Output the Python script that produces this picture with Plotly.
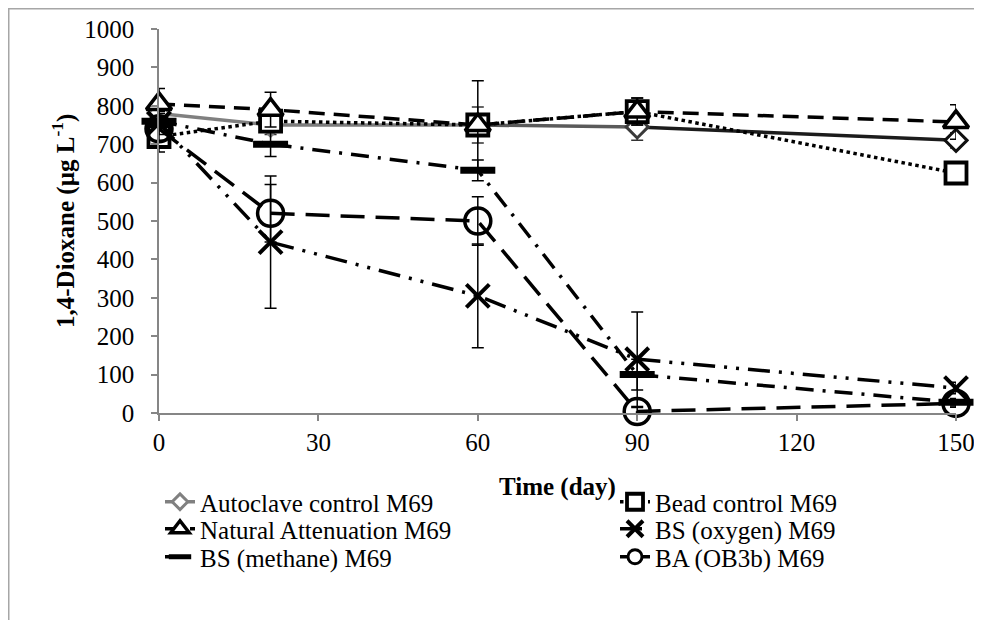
import plotly.graph_objects as go

# ---------------- data ----------------
days = [0, 21, 60, 90, 150]

autoclave = [780, 750, 750, 745, 710]
autoclave_err = [35, 25, 47, 35, 20]

bead = [720, 760, 750, 785, 625]
bead_err = [40, 15, 20, 35, 12]

natural = [805, 790, 750, 785, 758]
natural_err = [40, 45, 115, 35, 45]

oxygen = [755, 445, 305, 140, 65]
oxygen_err = [30, 172, 135, 123, 15]

methane = [760, 700, 632, 100, 28]
methane_err = [20, 32, 27, 40, 10]

ba = [740, 520, 500, 4, 25]
ba_err = [30, 75, 63, 10, 10]

names = ["Autoclave control M69", "Bead control M69", "Natural Attenuation M69",
         "BS (oxygen) M69", "BS (methane) M69", "BA (OB3b) M69"]

x_ticks = [0, 30, 60, 90, 120, 150]
y_ticks = [0, 100, 200, 300, 400, 500, 600, 700, 800, 900, 1000]

x_title = "<b>Time (day)</b>"
y_title = "<b>1,4-Dioxane (µg L<sup>-1</sup>)</b>"

# ---------------- style ----------------
FONT = "Liberation Serif, Times New Roman, serif"
FS = 25
AXIS_GRAY = "#868686"
auto_seg_colors = ["#808080", "#7c7c7c", "#5a5a5a", "#1c1c1c"]
auto_marker_colors = ["#808080", "#808080", "#6a6a6a", "#3a3a3a", "#101010"]

fig = go.Figure()

def err(arr, color="black"):
    return dict(type="data", array=arr, visible=True, color=color, thickness=1.5, width=6)

def legend_only(name, legend, line, marker):
    fig.add_trace(go.Scatter(x=[None], y=[None], name=name, mode="lines+markers",
                             line=line, marker=marker, legend=legend))

# Autoclave: gray line darkening toward the end (drawn segment by segment)
for i in range(len(days) - 1):
    fig.add_trace(go.Scatter(
        x=days[i:i + 2], y=autoclave[i:i + 2], mode="lines",
        line=dict(color=auto_seg_colors[i], width=3.5),
        showlegend=False, hoverinfo="skip", cliponaxis=False))
fig.add_trace(go.Scatter(
    x=days, y=autoclave, name=names[0], mode="markers",
    marker=dict(symbol="diamond", size=17, color="white",
                line=dict(color=auto_marker_colors, width=3)),
    error_y=err(autoclave_err, "#333333"),
    cliponaxis=False, showlegend=False))
legend_only(names[0], "legend", dict(color="#808080", width=3.5),
            dict(symbol="diamond", size=12, color="white", line=dict(color="#808080", width=3)))

fig.add_trace(go.Scatter(
    x=days, y=bead, name=names[1], mode="lines+markers",
    line=dict(color="black", width=3.5, dash="dot"),
    marker=dict(symbol="square", size=21, color="white",
                line=dict(color="black", width=3.8)),
    error_y=err(bead_err), cliponaxis=False, legend="legend2"))

fig.add_trace(go.Scatter(
    x=days, y=natural, name=names[2], mode="lines+markers",
    line=dict(color="black", width=3.5, dash="16px,9px"),
    marker=dict(symbol="triangle-up", size=22, color="white",
                line=dict(color="black", width=3.5)),
    error_y=err(natural_err), cliponaxis=False, legend="legend3"))

fig.add_trace(go.Scatter(
    x=days, y=oxygen, name=names[3], mode="lines+markers",
    line=dict(color="black", width=3.5, dash="22px,9px,3px,9px,3px,9px"),
    marker=dict(symbol="x-thin-open", size=23, color="black",
                line=dict(color="black", width=4)),
    error_y=err(oxygen_err), cliponaxis=False, legend="legend4"))

fig.add_trace(go.Scatter(
    x=days, y=methane, name=names[4], mode="lines+markers",
    line=dict(color="black", width=3.5, dash="18px,9px,3px,9px"),
    marker=dict(symbol="line-ew-open", size=25, color="black",
                line=dict(color="black", width=7)),
    error_y=err(methane_err), cliponaxis=False, showlegend=False))
legend_only(names[4], "legend5", dict(color="black", width=3.5, dash="10px,6px"),
            dict(symbol="line-ew-open", size=16, color="black", line=dict(color="black", width=6)))

fig.add_trace(go.Scatter(
    x=days, y=ba, name=names[5], mode="lines+markers",
    line=dict(color="black", width=3.5, dash="24px,11px"),
    marker=dict(symbol="circle", size=26, color="rgba(255,255,255,0)",
                line=dict(color="black", width=3.5)),
    error_y=err(ba_err), cliponaxis=False, showlegend=False))
legend_only(names[5], "legend6", dict(color="black", width=3.5),
            dict(symbol="circle", size=14, color="white", line=dict(color="black", width=3)))

# figure sits 8px inside the page (body margin)
W, H = 974, 612
L, R, T, B = 151, 26, 21, 207
pw, ph = W - L - R, H - T - B

def px2paper_x(px):
    return (px - L) / pw

def px2paper_y(py):
    return (H - B - py) / ph

def legend_at(x_px, y_px):
    return dict(
        orientation="v", xref="container", yref="container",
        x=x_px / W, xanchor="left", y=1 - y_px / H, yanchor="middle",
        font=dict(family=FONT, size=FS, color="black"),
        bgcolor="rgba(0,0,0,0)", borderwidth=0, itemclick=False,
    )

col1, col2 = 152, 607
row1, row2, row3 = 494, 521, 549

fig.update_layout(
    width=W, height=H,
    margin=dict(l=L, r=R, t=T, b=B, autoexpand=False),
    paper_bgcolor="white", plot_bgcolor="white",
    font=dict(family=FONT, size=FS, color="black"),
    legend=legend_at(col1, row1),
    legend2=legend_at(col2, row1),
    legend3=legend_at(col1, row2),
    legend4=legend_at(col2, row2),
    legend5=legend_at(col1, row3),
    legend6=legend_at(col2, row3),
    xaxis=dict(
        range=[0, 150], tickvals=x_ticks, ticktext=[str(v) for v in x_ticks],
        showgrid=False, zeroline=False, showline=True,
        linecolor=AXIS_GRAY, linewidth=1.5,
        ticks="outside", ticklen=6, tickcolor=AXIS_GRAY, tickwidth=1.5,
        tickfont=dict(family=FONT, size=FS, color="black"),
        automargin=False,
    ),
    yaxis=dict(
        range=[0, 1000], tickvals=y_ticks, ticktext=[str(v) for v in y_ticks],
        showgrid=False, zeroline=False, showline=True,
        linecolor=AXIS_GRAY, linewidth=1.5,
        ticks="outside", ticklen=6, tickcolor=AXIS_GRAY, tickwidth=1.5,
        ticklabelstandoff=12,
        tickfont=dict(family=FONT, size=FS, color="black"),
        automargin=False,
    ),
    annotations=[
        dict(text=x_title, xref="paper", yref="paper", x=0.5, y=px2paper_y(479),
             xanchor="center", yanchor="middle", showarrow=False,
             font=dict(family=FONT, size=FS, color="black")),
        dict(text=y_title, xref="paper", yref="paper", x=px2paper_x(55), y=0.5,
             xanchor="center", yanchor="middle", showarrow=False, textangle=-90,
             font=dict(family=FONT, size=FS, color="black")),
    ],
    shapes=[dict(
        type="rect", xref="paper", yref="paper",
        x0=px2paper_x(0.75), x1=px2paper_x(W + 10),
        y0=px2paper_y(H + 10), y1=px2paper_y(0.75),
        line=dict(color="#a6a6a6", width=1.5), fillcolor="rgba(0,0,0,0)", layer="below",
    )],
)

fig.write_html("out.html")
